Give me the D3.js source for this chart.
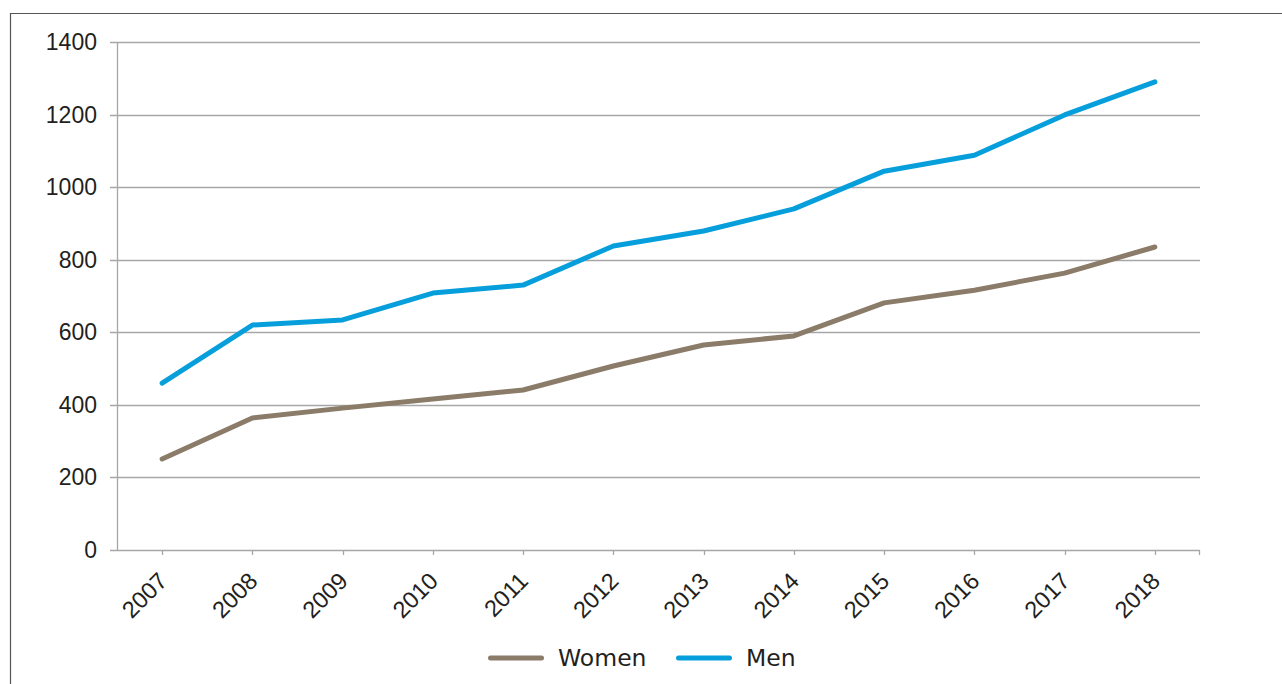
<!DOCTYPE html>
<html>
<head>
<meta charset="utf-8">
<script src="https://cdn.jsdelivr.net/npm/d3@7/dist/d3.min.js"></script>
<style>
  html, body { margin: 0; padding: 0; background: #fff; }
  svg { display: block; }
</style>
</head>
<body>
<svg id="chart" width="1282" height="684"></svg>
<script>
// Yearly counts by sex
const years = ["2007","2008","2009","2010","2011","2012","2013","2014","2015","2016","2017","2018"];
const women = [251, 364, 391, 416, 441, 507, 565, 590, 681, 716, 763, 835];
const men   = [460, 620, 634, 708, 730, 838, 879, 940, 1044, 1088, 1199, 1290];
const yTicks = [0, 200, 400, 600, 800, 1000, 1200, 1400];
const seriesNames = ["Women", "Men"];
const seriesColors = ["#8b7b69", "#069fdb"];

const svg = d3.select("#chart");
const W = 1282, H = 684;
const plotL = 117, plotR = 1200, plotT = 42, plotB = 550;
const tickFont = "Liberation Sans, Arial, sans-serif";

// outer frame (left and top edges)
svg.append("path")
  .attr("d", `M10.5,${H} L10.5,13.5 L${W},13.5`)
  .attr("fill", "none").attr("stroke", "#555").attr("stroke-width", 1.2);

const x = d3.scaleBand().domain(years).range([plotL, plotR]).paddingInner(0).paddingOuter(0);
const y = d3.scaleLinear().domain([0, 1400]).range([plotB, plotT]);
const cx = d => x(d) + x.bandwidth() / 2;

// gridlines with left tick stubs and labels
const yAxis = svg.append("g");
yTicks.forEach(t => {
  yAxis.append("line")
    .attr("x1", plotL - 7).attr("x2", plotR)
    .attr("y1", Math.round(y(t)) + 0.5).attr("y2", Math.round(y(t)) + 0.5)
    .attr("stroke", "#a6a6a6").attr("stroke-width", 1.3);
  yAxis.append("text")
    .attr("x", 97).attr("y", y(t))
    .attr("dy", "0.35em")
    .attr("text-anchor", "end")
    .attr("font-family", tickFont)
    .attr("font-size", 23)
    .attr("fill", "#231f20")
    .text(t);
});

// vertical axis line
svg.append("line")
  .attr("x1", plotL + 0.5).attr("x2", plotL + 0.5)
  .attr("y1", plotT).attr("y2", plotB)
  .attr("stroke", "#a6a6a6").attr("stroke-width", 1.3);

// category ticks and rotated labels
const xAxis = svg.append("g");
years.forEach(yr => {
  xAxis.append("line")
    .attr("x1", Math.round(cx(yr)) + 0.5).attr("x2", Math.round(cx(yr)) + 0.5)
    .attr("y1", plotB).attr("y2", plotB + 5)
    .attr("stroke", "#a6a6a6").attr("stroke-width", 1.3);
  xAxis.append("text")
    .attr("transform", `translate(${cx(yr) + 6.5},${plotB + 32.5}) rotate(-45)`)
    .attr("text-anchor", "end")
    .attr("font-family", tickFont)
    .attr("font-size", 23.5)
    .attr("fill", "#231f20")
    .text(yr);
});
xAxis.append("line")
  .attr("x1", plotR - 0.5).attr("x2", plotR - 0.5)
  .attr("y1", plotB).attr("y2", plotB + 5)
  .attr("stroke", "#a6a6a6").attr("stroke-width", 1.3);

// series lines
const line = d3.line().x((d, i) => cx(years[i])).y(d => y(d));
[women, men].forEach((vals, i) => {
  svg.append("path")
    .datum(vals)
    .attr("d", line)
    .attr("fill", "none")
    .attr("stroke", seriesColors[i])
    .attr("stroke-width", 5)
    .attr("stroke-linecap", "round")
    .attr("stroke-linejoin", "round");
});

// legend
const legendItems = [{x: 490.5, tx: 558, name: seriesNames[0], color: seriesColors[0]},
                     {x: 678.5, tx: 746, name: seriesNames[1], color: seriesColors[1]}];
legendItems.forEach(it => {
  svg.append("line")
    .attr("x1", it.x).attr("x2", it.x + 51)
    .attr("y1", 658).attr("y2", 658)
    .attr("stroke", it.color).attr("stroke-width", 5)
    .attr("stroke-linecap", "round");
  svg.append("text")
    .attr("x", it.tx).attr("y", 658)
    .attr("dy", "0.36em")
    .attr("font-family", "DejaVu Sans, Verdana, sans-serif")
    .attr("font-size", 23.5)
    .attr("fill", "#231f20")
    .text(it.name);
});
</script>
</body>
</html>
